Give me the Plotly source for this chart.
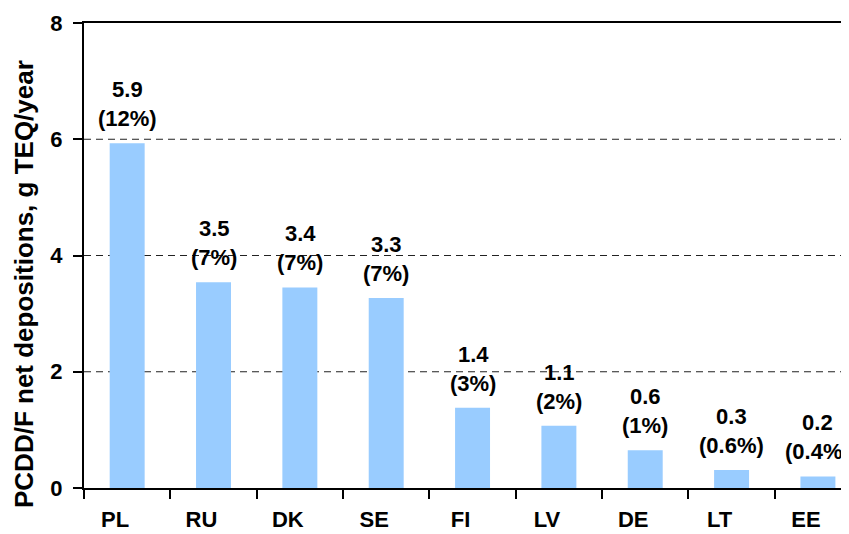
import plotly.graph_objects as go

countries = ["PL", "RU", "DK", "SE", "FI", "LV", "DE", "LT", "EE"]
depositions = [5.93, 3.54, 3.45, 3.27, 1.38, 1.07, 0.65, 0.31, 0.20]
value_labels = ["5.9", "3.5", "3.4", "3.3", "1.4", "1.1", "0.6", "0.3", "0.2"]
share_labels = ["(12%)", "(7%)", "(7%)", "(7%)", "(3%)", "(2%)", "(1%)", "(0.6%)", "(0.4%)"]
y_ticks = [0, 2, 4, 6, 8]

FONT = "Liberation Sans, Arial, Helvetica, sans-serif"

# the page body has an 8px default margin; size the figure to fit the window
W, H = 841, 526
ML, MT, MB = 76, 15, 46

fig = go.Figure()
fig.add_trace(go.Bar(
    x=countries, y=depositions,
    marker=dict(color="#99CCFF", line=dict(width=0)),
    width=0.405,
    hoverinfo="x+y",
))

for c, v, a, b in zip(countries, depositions, value_labels, share_labels):
    fig.add_annotation(
        x=c, y=v, xref="x", yref="y",
        text=f"{a}<br>{b}", showarrow=False,
        yanchor="bottom", yshift=10,
        font=dict(family=FONT, size=22, color="black", weight="bold"),
    )

for g in [2, 4, 6]:
    fig.add_shape(type="line", xref="paper", yref="y", x0=0, x1=1, y0=g, y1=g,
                  line=dict(color="#222222", width=1, dash="7px,5px"), layer="below")

plot_w = W - ML
plot_h = H - MT - MB
title_cx = 16  # figure px
title_cy = 284 - 8  # figure px
fig.add_annotation(
    text="PCDD/F net depositions, g TEQ/year",
    xref="paper", yref="paper",
    x=(title_cx - ML) / plot_w, y=(H - MB - title_cy) / plot_h,
    xanchor="center", yanchor="middle", textangle=-90, showarrow=False,
    font=dict(family=FONT, size=26, color="black", weight="bold"),
)

fig.update_layout(
    width=W, height=H,
    margin=dict(l=ML, r=0, t=MT, b=MB, pad=0),
    plot_bgcolor="white", paper_bgcolor="white",
    showlegend=False,
    xaxis=dict(
        type="category", range=[-0.5, 8.36],
        showline=True, linecolor="black", linewidth=2, mirror=True,
        ticks="outside", tickson="boundaries", ticklen=9, tickwidth=2, tickcolor="black",
        showgrid=False, zeroline=False,
        tickfont=dict(family=FONT, size=22, color="black", weight="bold"),
        ticklabelstandoff=11, ticklabelshift=-12,
    ),
    yaxis=dict(
        range=[0, 8], tickvals=y_ticks, ticktext=[str(t) for t in y_ticks],
        showline=True, linecolor="black", linewidth=2,
        ticks="outside", ticklen=9, tickwidth=2, tickcolor="black",
        showgrid=False, zeroline=False,
        tickfont=dict(family=FONT, size=22, color="black", weight="bold"),
        ticklabelstandoff=6,
    ),
)

fig.write_html("out.html")
